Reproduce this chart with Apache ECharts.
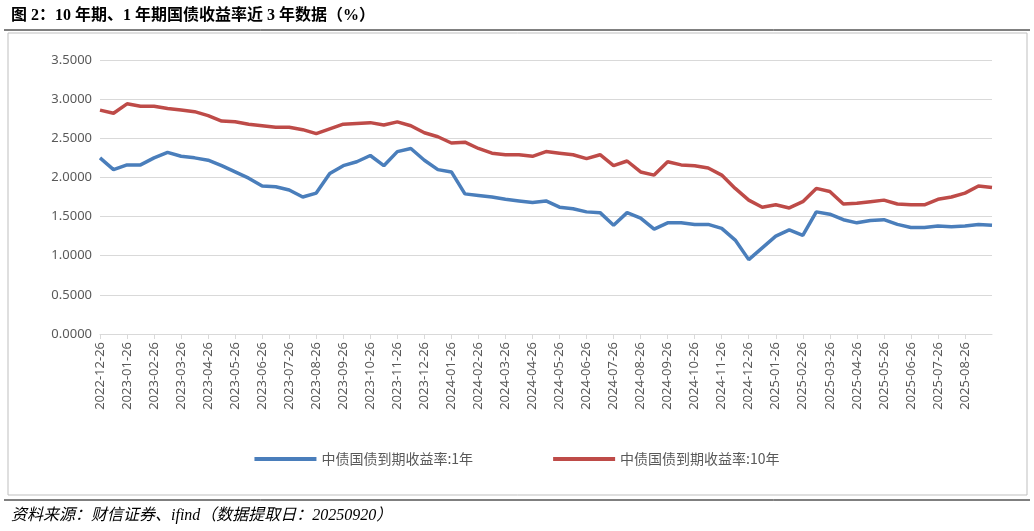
<!DOCTYPE html>
<html lang="zh">
<head>
<meta charset="utf-8">
<script src="https://cdn.jsdelivr.net/npm/echarts@6/dist/echarts.min.js"></script>
<style>body{margin:0;background:#fff}</style>
</head>
<body>
<div id="main" style="width:1034px;height:531px;"></div>
<script type="text/javascript">
var dates = ['2022-12-26','2023-01-11','2023-01-26','2023-02-11','2023-02-26','2023-03-11','2023-03-26','2023-04-11','2023-04-26','2023-05-11','2023-05-26','2023-06-11','2023-06-26','2023-07-11','2023-07-26','2023-08-11','2023-08-26','2023-09-11','2023-09-26','2023-10-11','2023-10-26','2023-11-11','2023-11-26','2023-12-11','2023-12-26',
  '2024-01-11','2024-01-26','2024-02-11','2024-02-26','2024-03-11','2024-03-26','2024-04-11','2024-04-26','2024-05-11','2024-05-26','2024-06-11','2024-06-26','2024-07-11','2024-07-26','2024-08-11','2024-08-26','2024-09-11','2024-09-26','2024-10-11','2024-10-26','2024-11-11','2024-11-26','2024-12-11','2024-12-26',
  '2025-01-11','2025-01-26','2025-02-11','2025-02-26','2025-03-11','2025-03-26','2025-04-11','2025-04-26','2025-05-11','2025-05-26','2025-06-11','2025-06-26','2025-07-11','2025-07-26','2025-08-11','2025-08-26','2025-09-11','2025-09-19'];
var y1 = [2.25,2.10,2.16,2.16,2.25,2.32,2.27,2.25,2.22,2.15,2.07,1.99,1.89,1.88,1.84,1.75,1.80,2.05,2.15,2.20,2.28,2.15,2.33,2.37,2.22,
  2.10,2.07,1.79,1.77,1.75,1.72,1.70,1.68,1.70,1.62,1.60,1.56,1.55,1.39,1.55,1.48,1.34,1.42,1.42,1.40,1.40,1.35,1.20,0.95,
  1.10,1.25,1.33,1.26,1.56,1.53,1.46,1.42,1.45,1.46,1.40,1.36,1.36,1.38,1.37,1.38,1.40,1.39];
var y10 = [2.86,2.82,2.94,2.91,2.91,2.88,2.86,2.84,2.79,2.72,2.71,2.68,2.66,2.64,2.64,2.61,2.56,2.62,2.68,2.69,2.70,2.67,2.71,2.66,2.57,
  2.52,2.44,2.45,2.37,2.31,2.29,2.29,2.27,2.33,2.31,2.29,2.24,2.29,2.15,2.21,2.07,2.03,2.20,2.16,2.15,2.12,2.03,1.86,1.71,
  1.62,1.65,1.61,1.69,1.86,1.82,1.66,1.67,1.69,1.71,1.66,1.65,1.65,1.72,1.75,1.80,1.89,1.87];
var name1 = '中债国债到期收益率:1年';
var name10 = '中债国债到期收益率:10年';

var myChart = echarts.init(document.getElementById('main'));
var option = {
    animation: false,
    textStyle: {fontFamily: 'Liberation Serif, Noto Sans CJK SC'},
    title: [
        {text: '图 2：10 年期、1 年期国债收益率近 3 年数据（%）', left: 6, top: 3,
         textStyle: {fontSize: 16, fontWeight: 'bold', color: '#000', fontFamily: 'Liberation Serif, Noto Sans CJK SC'}},
        {text: '资料来源：财信证券、ifind（数据提取日：20250920）', left: 6, top: 503,
         textStyle: {fontSize: 16, fontWeight: 'normal', fontStyle: 'italic', color: '#000', fontFamily: 'Liberation Serif, Noto Sans CJK SC'}}
    ],
    graphic: [
        {type: 'line', shape: {x1: 4, y1: 30, x2: 1030, y2: 30}, style: {stroke: '#000', lineWidth: 1}},
        {type: 'rect', shape: {x: 8, y: 33, width: 1019, height: 462}, style: {fill: 'none', stroke: '#bfbfbf', lineWidth: 1}},
        {type: 'line', shape: {x1: 4, y1: 500, x2: 1030, y2: 500}, style: {stroke: '#000', lineWidth: 1}}
    ],
    legend: {
        bottom: 60, left: 'center', itemGap: 80, itemWidth: 62, itemHeight: 4,
        icon: 'rect',
        textStyle: {fontSize: 14, color: '#595959', fontFamily: 'Noto Sans CJK SC'},
        data: [name1, name10]
    },
    grid: {left: 100, right: 42, top: 60, bottom: 197},
    xAxis: {
        type: 'category', data: dates, boundaryGap: false,
        axisLine: {lineStyle: {color: '#d9d9d9'}},
        axisTick: {show: true, alignWithLabel: true, interval: function (i, v) { return v.slice(8) === '26'; }, lineStyle: {color: '#d9d9d9'}},
        axisLabel: {rotate: 90, color: '#595959', fontSize: 13, fontFamily: 'Noto Sans',
                    interval: function (i, v) { return v.slice(8) === '26'; }}
    },
    yAxis: {
        type: 'value', min: 0, max: 3.5, interval: 0.5,
        axisLine: {show: false}, axisTick: {show: false},
        splitLine: {lineStyle: {color: '#d9d9d9'}},
        axisLabel: {color: '#595959', fontSize: 13, fontFamily: 'Noto Sans', formatter: function (v) { return v.toFixed(4); }}
    },
    series: [
        {name: name1, type: 'line', data: y1, showSymbol: false, lineStyle: {width: 3.5, color: '#4a7ebb'}, itemStyle: {color: '#4a7ebb'}},
        {name: name10, type: 'line', data: y10, showSymbol: false, lineStyle: {width: 3.5, color: '#be4b48'}, itemStyle: {color: '#be4b48'}}
    ]
};
myChart.setOption(option);
</script>
</body>
</html>
